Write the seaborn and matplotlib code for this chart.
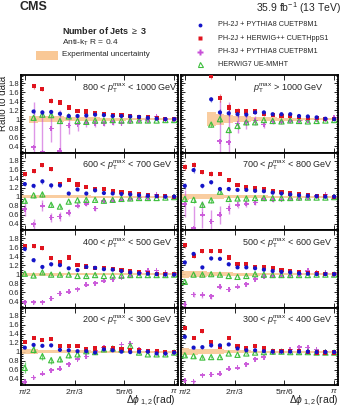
import numpy as np
import seaborn as sns
import matplotlib.pyplot as plt
from matplotlib.ticker import FixedLocator, MultipleLocator, FuncFormatter

nan = np.nan

# Delta phi_12 bin positions (pi/2 ... pi), 18 bins
dphi = np.linspace(np.pi / 2, np.pi, 18)
dphi_ticks = [np.pi / 2, 2 * np.pi / 3, 5 * np.pi / 6, np.pi]
dphi_labels = [r"$\pi$/2", r"2$\pi$/3", r"5$\pi$/6", r"$\pi$"]

series_names = ["PH-2J + PYTHIA8 CUETP8M1", "PH-2J + HERWIG++ CUETHppS1",
                "PH-3J + PYTHIA8 CUETP8M1", "HERWIG7 UE-MMHT"]

# ---- 800 < pT < 1000 GeV
p800_blue = [nan, 1.17, 1.15, 1.16, 1.12, 1.07, 1.07, 1.08, 1.10, 1.09, 1.07, 1.07, 1.06, 1.05, 1.03, 1.01, 1.00, 1.00]
p800_red = [nan, 1.73, 1.67, 1.41, 1.37, 1.26, 1.19, 1.17, 1.13, 1.11, 1.09, 1.09, 1.07, 1.05, 1.04, 1.02, 1.00, 1.00]
p800_mag = [nan, 0.38, 0.27, 0.79, 0.30, 0.86, 0.88, 0.92, 0.90, 0.91, 0.93, 0.91, 0.95, 0.97, 0.98, 1.06, 1.00, 1.00]
p800_green = [nan, 1.03, 1.10, 1.09, 0.96, 1.06, 0.96, 0.94, 0.97, 0.97, 0.98, 0.97, 0.97, 0.97, 0.97, 0.97, 0.98, 0.98]
p800_err = [nan, 0.05, 0.05, 0.05, 0.04, 0.04, 0.03, 0.03, 0.03, 0.02, 0.02, 0.02, 0.02, 0.02, 0.01, 0.01, 0.01, 0.01]
p800_err_mag = [nan, 1.0, 0.9, 0.3, 0.9, 0.2, 0.15, 0.1, 0.08, 0.06, 0.05, 0.05, 0.04, 0.04, 0.03, 0.03, 0.02, 0.02]
p800_band = [nan, 0.08, 0.07, 0.06, 0.06, 0.05, 0.05, 0.04, 0.04, 0.03, 0.03, 0.03, 0.02, 0.02, 0.02, 0.02, 0.02, 0.02]

# ---- pT > 1000 GeV
p1000_blue = [nan, nan, nan, 1.44, 1.15, 1.13, 1.11, 1.10, 1.15, 1.15, 1.11, 1.11, 1.11, 1.07, 1.06, 1.04, 1.01, 1.00]
p1000_red = [nan, nan, nan, 1.95, 1.47, 1.26, 1.18, 1.17, 1.17, 1.11, 1.09, 1.07, 1.07, 1.05, 1.03, 1.02, 1.01, 1.01]
p1000_mag = [nan, nan, nan, nan, 0.51, 0.49, 0.90, 0.93, 0.97, 0.88, 0.95, 0.94, 0.96, 0.97, 0.97, 0.99, 1.00, 1.04]
p1000_green = [nan, nan, nan, 0.88, 1.00, 0.76, 0.85, 0.93, 0.93, 0.98, 0.96, 0.95, 0.97, 0.96, 0.95, 0.96, 0.97, 0.98]
p1000_err = [nan, nan, nan, 0.06, 0.08, 0.07, 0.06, 0.05, 0.04, 0.03, 0.03, 0.03, 0.02, 0.02, 0.02, 0.02, 0.01, 0.01]
p1000_err_mag = [nan, nan, nan, nan, 0.9, 0.9, 0.2, 0.15, 0.1, 0.08, 0.06, 0.05, 0.04, 0.04, 0.03, 0.03, 0.02, 0.02]
p1000_band = [nan, nan, nan, 0.15, 0.12, 0.09, 0.07, 0.06, 0.05, 0.04, 0.04, 0.03, 0.03, 0.03, 0.02, 0.02, 0.02, 0.02]

# ---- 600 < pT < 700 GeV
p600_blue = [1.28, 1.24, 1.34, 1.25, 1.25, 1.07, 1.16, 1.07, 1.14, 1.08, 1.07, 1.06, 1.05, 1.03, 1.02, 1.01, 1.00, 1.00]
p600_red = [1.50, 1.57, 1.70, 1.61, 1.29, 1.37, 1.27, 1.22, 1.17, 1.17, 1.12, 1.10, 1.08, 1.06, 1.04, 1.02, 1.01, 1.00]
p600_mag = [0.72, 0.39, 0.80, 0.54, 0.56, 0.64, 0.80, 0.84, 0.74, 0.91, 0.91, 0.93, 0.95, 0.98, 0.99, 1.05, 1.00, 1.00]
p600_green = [0.91, 1.03, 1.05, 0.82, 0.78, 0.89, 0.92, 0.93, 0.93, 0.91, 0.93, 0.95, 0.96, 0.97, 0.97, 0.97, 0.98, 0.99]
p600_err = [0.05, 0.05, 0.05, 0.05, 0.04, 0.03, 0.03, 0.03, 0.02, 0.02, 0.02, 0.02, 0.01, 0.01, 0.01, 0.01, 0.01, 0.01]
p600_err_mag = [0.15, 0.12, 0.12, 0.1, 0.1, 0.08, 0.06, 0.05, 0.05, 0.04, 0.03, 0.03, 0.03, 0.02, 0.02, 0.02, 0.02, 0.02]
p600_band = [0.04, 0.04, 0.04, 0.04, 0.035, 0.03, 0.03, 0.03, 0.025, 0.025, 0.02, 0.02, 0.02, 0.02, 0.02, 0.02, 0.02, 0.02]

# ---- 700 < pT < 800 GeV
p700_blue = [1.24, 1.59, 1.24, 1.32, 1.17, 1.17, 1.15, 1.15, 1.13, 1.12, 1.09, 1.07, 1.05, 1.03, 1.02, 1.01, 1.00, 1.00]
p700_red = [1.66, 1.71, 1.55, 1.51, 1.51, 1.37, 1.26, 1.22, 1.19, 1.17, 1.13, 1.10, 1.07, 1.05, 1.03, 1.02, 1.01, 1.00]
p700_mag = [0.84, 0.30, 0.60, 0.45, 0.60, 0.74, 0.82, 0.84, 0.87, 0.95, 0.93, 0.94, 0.95, 0.96, 0.98, 1.01, 1.05, 1.00]
p700_green = [0.95, 0.93, 0.82, 0.92, 1.11, 0.95, 0.96, 0.96, 0.97, 0.97, 0.97, 0.97, 0.97, 0.98, 0.98, 0.98, 0.98, 0.99]
p700_err = [0.06, 0.06, 0.05, 0.05, 0.04, 0.04, 0.03, 0.03, 0.02, 0.02, 0.02, 0.02, 0.02, 0.01, 0.01, 0.01, 0.01, 0.01]
p700_err_mag = [0.3, 0.5, 0.3, 0.25, 0.2, 0.12, 0.08, 0.06, 0.05, 0.04, 0.04, 0.03, 0.03, 0.03, 0.02, 0.02, 0.02, 0.02]
p700_band = [0.07, 0.06, 0.06, 0.05, 0.05, 0.04, 0.04, 0.03, 0.03, 0.03, 0.02, 0.02, 0.02, 0.02, 0.02, 0.02, 0.02, 0.02]

# ---- 400 < pT < 500 GeV
p400_blue = [1.56, 1.31, 1.16, 1.22, 1.20, 1.13, 1.09, 1.16, 1.14, 1.11, 1.10, 1.07, 1.04, 1.02, 1.01, 1.00, 0.99, 0.99]
p400_red = [1.62, 1.62, 1.58, 1.35, 1.27, 1.37, 1.21, 1.17, 1.14, 1.13, 1.11, 1.09, 1.06, 1.04, 1.02, 1.00, 1.00, 1.00]
p400_mag = [0.38, 0.38, 0.38, 0.46, 0.57, 0.61, 0.67, 0.76, 0.80, 0.85, 0.88, 0.92, 0.96, 1.02, 1.07, 1.08, 1.03, 1.00]
p400_green = [1.01, 0.97, 1.04, 0.99, 0.99, 0.99, 0.96, 0.96, 0.98, 0.96, 0.97, 0.97, 0.98, 0.98, 0.98, 0.98, 0.98, 0.99]
p400_err = [0.05, 0.04, 0.04, 0.03, 0.03, 0.02, 0.02, 0.02, 0.02, 0.01, 0.01, 0.01, 0.01, 0.01, 0.01, 0.01, 0.01, 0.01]
p400_err_mag = [0.05, 0.04, 0.04, 0.03, 0.03, 0.02, 0.02, 0.02, 0.02, 0.02, 0.01, 0.01, 0.01, 0.01, 0.01, 0.01, 0.01, 0.01]
p400_band = [0.035, 0.035, 0.03, 0.03, 0.03, 0.025, 0.025, 0.02, 0.02, 0.02, 0.02, 0.02, 0.015, 0.015, 0.015, 0.015, 0.015, 0.015]

# ---- 500 < pT < 600 GeV
p500_blue = [1.26, 1.45, 1.15, 1.35, 1.34, 1.22, 1.15, 1.15, 1.13, 1.10, 1.07, 1.05, 1.04, 1.02, 1.01, 1.00, 1.00, 1.00]
p500_red = [1.64, 1.40, 1.52, 1.51, 1.51, 1.37, 1.22, 1.22, 1.16, 1.15, 1.13, 1.10, 1.07, 1.05, 1.02, 1.02, 1.00, 1.00]
p500_mag = [0.33, 0.55, 0.54, 0.51, 0.72, 0.66, 0.72, 0.78, 0.89, 0.94, 0.96, 0.96, 0.97, 1.00, 1.07, 1.04, 1.03, 1.00]
p500_green = [0.83, 0.99, 0.99, 1.00, 0.99, 0.96, 0.94, 0.96, 1.00, 0.99, 0.98, 0.98, 0.98, 0.98, 0.98, 0.99, 0.99, 0.99]
p500_err = [0.05, 0.04, 0.04, 0.03, 0.03, 0.03, 0.02, 0.02, 0.02, 0.02, 0.01, 0.01, 0.01, 0.01, 0.01, 0.01, 0.01, 0.01]
p500_err_mag = [0.08, 0.06, 0.06, 0.06, 0.05, 0.04, 0.03, 0.03, 0.02, 0.02, 0.02, 0.02, 0.01, 0.01, 0.01, 0.01, 0.01, 0.01]
p500_band = [0.08, 0.07, 0.06, 0.05, 0.05, 0.04, 0.03, 0.03, 0.03, 0.02, 0.02, 0.02, 0.02, 0.02, 0.02, 0.02, 0.02, 0.02]

# ---- 200 < pT < 300 GeV
p200_blue = [1.09, 1.15, 1.13, 1.14, 1.04, 1.03, 1.01, 1.01, 0.98, 1.05, 1.03, 1.00, 0.99, 1.00, 1.00, 0.96, 0.96, 0.98]
p200_red = [1.22, 1.30, 1.26, 1.28, 1.13, 1.13, 1.13, 1.05, 1.07, 1.09, 1.09, 1.06, 1.04, 1.03, 1.02, 1.01, 1.00, 0.99]
p200_mag = [0.33, 0.43, 0.51, 0.59, 0.62, 0.72, 0.83, 0.89, 1.01, 1.09, 1.07, 1.16, 1.18, 1.05, 1.00, 1.00, 0.96, 0.98]
p200_green = [0.64, 1.04, 0.90, 0.81, 0.83, 0.92, 0.94, 1.01, 0.99, 1.05, 1.07, 1.05, 1.13, 0.98, 0.94, 0.94, 0.94, 0.98]
p200_err = [0.03, 0.03, 0.03, 0.03, 0.02, 0.02, 0.02, 0.02, 0.02, 0.02, 0.01, 0.01, 0.01, 0.01, 0.01, 0.01, 0.01, 0.01]
p200_err_green = [0.12, 0.08, 0.08, 0.08, 0.07, 0.06, 0.05, 0.05, 0.04, 0.04, 0.04, 0.03, 0.03, 0.03, 0.02, 0.02, 0.02, 0.02]
p200_band = [0.05, 0.05, 0.04, 0.04, 0.04, 0.035, 0.03, 0.03, 0.025, 0.025, 0.02, 0.02, 0.02, 0.02, 0.02, 0.02, 0.02, 0.02]

# ---- 300 < pT < 400 GeV
p300_blue = [1.33, 1.09, 1.10, 1.14, 1.14, 1.16, 1.07, 1.03, 1.03, 1.01, 1.00, 1.00, 1.00, 1.00, 1.00, 0.99, 0.99, 0.99]
p300_red = [1.52, 1.30, 1.45, 1.22, 1.11, 1.30, 1.13, 1.09, 1.13, 1.07, 1.01, 1.01, 1.01, 1.01, 0.99, 0.98, 0.98, 0.98]
p300_mag = [0.36, 0.34, 0.48, 0.49, 0.51, 0.62, 0.64, 0.72, 0.83, 0.88, 0.98, 1.01, 1.05, 1.10, 1.09, 1.05, 1.00, 0.98]
p300_green = [0.92, 0.90, 0.87, 0.88, 0.88, 0.96, 0.93, 0.96, 0.98, 0.99, 1.00, 1.00, 0.99, 0.99, 0.99, 0.98, 0.98, 0.98]
p300_err = [0.04, 0.03, 0.03, 0.03, 0.02, 0.02, 0.02, 0.02, 0.02, 0.01, 0.01, 0.01, 0.01, 0.01, 0.01, 0.01, 0.01, 0.01]
p300_band = [0.08, 0.07, 0.06, 0.05, 0.05, 0.04, 0.03, 0.03, 0.025, 0.02, 0.02, 0.02, 0.02, 0.02, 0.02, 0.02, 0.02, 0.02]

# panel layout: (row, col, label, label x, blue, red, magenta, green, err, err magenta, err green, band)
panels = [
    (0, 0, "800 < $p_{\\mathrm{T}}^{\\mathrm{max}}$ < 1000 GeV", 0.39, p800_blue, p800_red, p800_mag, p800_green, p800_err, p800_err_mag, p800_err, p800_band),
    (0, 1, "$p_{\\mathrm{T}}^{\\mathrm{max}}$ > 1000 GeV", 0.46, p1000_blue, p1000_red, p1000_mag, p1000_green, p1000_err, p1000_err_mag, p1000_err, p1000_band),
    (1, 0, "600 < $p_{\\mathrm{T}}^{\\mathrm{max}}$ < 700 GeV", 0.39, p600_blue, p600_red, p600_mag, p600_green, p600_err, p600_err_mag, p600_err, p600_band),
    (1, 1, "700 < $p_{\\mathrm{T}}^{\\mathrm{max}}$ < 800 GeV", 0.39, p700_blue, p700_red, p700_mag, p700_green, p700_err, p700_err_mag, p700_err, p700_band),
    (2, 0, "400 < $p_{\\mathrm{T}}^{\\mathrm{max}}$ < 500 GeV", 0.39, p400_blue, p400_red, p400_mag, p400_green, p400_err, p400_err_mag, p400_err, p400_band),
    (2, 1, "500 < $p_{\\mathrm{T}}^{\\mathrm{max}}$ < 600 GeV", 0.39, p500_blue, p500_red, p500_mag, p500_green, p500_err, p500_err_mag, p500_err, p500_band),
    (3, 0, "200 < $p_{\\mathrm{T}}^{\\mathrm{max}}$ < 300 GeV", 0.39, p200_blue, p200_red, p200_mag, p200_green, p200_err, p200_err, p200_err_green, p200_band),
    (3, 1, "300 < $p_{\\mathrm{T}}^{\\mathrm{max}}$ < 400 GeV", 0.39, p300_blue, p300_red, p300_mag, p300_green, p300_err, p300_err, p300_err, p300_band),
]

BLUE = "#1414c8"
RED = "#e0141e"
MAG = "#c850d8"
GREEN = "#3cbe3c"
ORANGE = "#f9c896"

sns.set_theme(style="ticks")
plt.rcParams['font.family'] = ['Liberation Sans', 'DejaVu Sans']
plt.rcParams['mathtext.fontset'] = 'custom'
plt.rcParams['mathtext.rm'] = 'Liberation Sans'
plt.rcParams['mathtext.it'] = 'Liberation Sans:italic'

W, H = 343, 409
fig = plt.figure(figsize=(W / 100, H / 100), dpi=100)

col_x = [21, 181]
row_y = [75, 152.5, 230, 307.5]
pw, ph = 157, 77.5
half = (dphi[1] - dphi[0]) / 2

for row, col, label, lx, blue, red, mag, green, err, err_mag, err_green, band in panels:
    ax = fig.add_axes([col_x[col] / W, 1 - (row_y[row] + ph) / H, pw / W, ph / H])
    blue, red, mag, green = map(np.array, (blue, red, mag, green))
    band = np.array(band)

    # experimental uncertainty band, one step per bin
    xe = np.column_stack([dphi - half, dphi + half]).ravel()
    be = np.repeat(band, 2)
    ax.fill_between(xe, 1 - be, 1 + be, color=ORANGE, lw=0, alpha=0.9, zorder=1)

    ax.errorbar(dphi, mag, yerr=err_mag, fmt='none', ecolor=MAG, alpha=0.6, elinewidth=1.0, zorder=2)
    ax.errorbar(dphi, green, yerr=err_green, fmt='none', ecolor=GREEN, alpha=0.7, elinewidth=0.9, zorder=2)
    ax.errorbar(dphi, blue, yerr=err, fmt='none', ecolor=BLUE, alpha=0.5, elinewidth=0.9, zorder=2)
    ax.errorbar(dphi, red, yerr=err, fmt='none', ecolor=RED, alpha=0.5, elinewidth=0.9, zorder=2)

    sns.scatterplot(x=dphi, y=mag, marker='P', s=13, color=MAG, edgecolor='none', alpha=0.9, ax=ax, zorder=3)
    sns.scatterplot(x=dphi, y=green, marker='^', s=14, facecolor='none', edgecolor=GREEN, linewidth=0.8, ax=ax, zorder=3)
    sns.scatterplot(x=dphi, y=red, marker='s', s=9, color=RED, edgecolor='none', ax=ax, zorder=4)
    sns.scatterplot(x=dphi, y=blue, marker='o', s=9, color=BLUE, edgecolor='none', ax=ax, zorder=4)

    ax.set_xlim(np.pi / 2 - 0.04, np.pi + 0.04)
    ax.set_ylim(0.26, 1.98)
    ax.xaxis.set_major_locator(FixedLocator(dphi_ticks))
    ax.yaxis.set_major_locator(MultipleLocator(0.2))
    ax.yaxis.set_minor_locator(MultipleLocator(0.05))
    ax.tick_params(which='both', direction='in', top=True, right=True, width=0.6, color='black',
                   labelsize=5.5, pad=1.2)
    ax.tick_params(which='major', length=3)
    ax.tick_params(which='minor', length=1.5)
    ax.tick_params(axis='x', which='major', length=3.5)
    if row == 3:
        ax.set_xticklabels(dphi_labels, fontsize=6)
    else:
        ax.set_xticklabels([])
    if col == 0:
        ax.yaxis.set_major_formatter(FuncFormatter(lambda v, p: f"{v:.1f}".rstrip('0').rstrip('.')))
    else:
        ax.set_yticklabels([])
    for s in ax.spines.values():
        s.set_linewidth(1.3)
        s.set_color('black')
    ax.set_xlabel('')
    ax.set_ylabel('')
    ax.text(lx, 0.83, label, transform=ax.transAxes, fontsize=6.5, va='center', ha='left')

# overlay in pixel coordinates for header, legend and axis titles
ov = fig.add_axes([0, 0, 1, 1], zorder=-1)
ov.set_xlim(0, W)
ov.set_ylim(H, 0)
ov.axis('off')

ov.text(20, 9.5, "CMS", fontsize=9, fontweight='bold', ha='left', va='baseline')
ov.text(341, 11.5, "35.9 fb$^{-1}$ (13 TeV)", fontsize=7.5, ha='right', va='baseline')
ov.text(62, 31, "Number of Jets $\\geq$ 3", fontsize=6.5, fontweight='bold', ha='left', va='center')
ov.text(62, 43, "Anti-k$_{\\mathrm{T}}$ R = 0.4", fontsize=6, ha='left', va='center')
ov.add_patch(plt.Rectangle((36, 51), 22, 9, color=ORANGE, lw=0))
ov.text(62, 55, "Experimental uncertainty", fontsize=5.8, ha='left', va='center')

leg_y = [25, 38.3, 51.7, 64.3]
leg_style = [dict(marker='o', ms=2.8, color=BLUE, mec='none'),
             dict(marker='s', ms=2.6, color=RED, mec='none'),
             dict(marker='P', ms=3.8, color=MAG, mec='none'),
             dict(marker='^', ms=3.6, color=GREEN, mfc='none', mec=GREEN, mew=0.8)]
for y, name, st in zip(leg_y, series_names, leg_style):
    ov.plot([199.5], [y], ls='none', **st)
    ov.text(218, y, name, fontsize=5.2, ha='left', va='center')

ov.text(3.5, 76, "Ratio to data", rotation=90, fontsize=7, ha='center', va='top')
ov.text(176, 401, "$\\Delta\\phi_{\\ 1,2}$(rad)", fontsize=7.5, ha='right', va='center')
ov.text(339, 401, "$\\Delta\\phi_{\\ 1,2}$(rad)", fontsize=7.5, ha='right', va='center')

fig.savefig("out.png", dpi=100)
